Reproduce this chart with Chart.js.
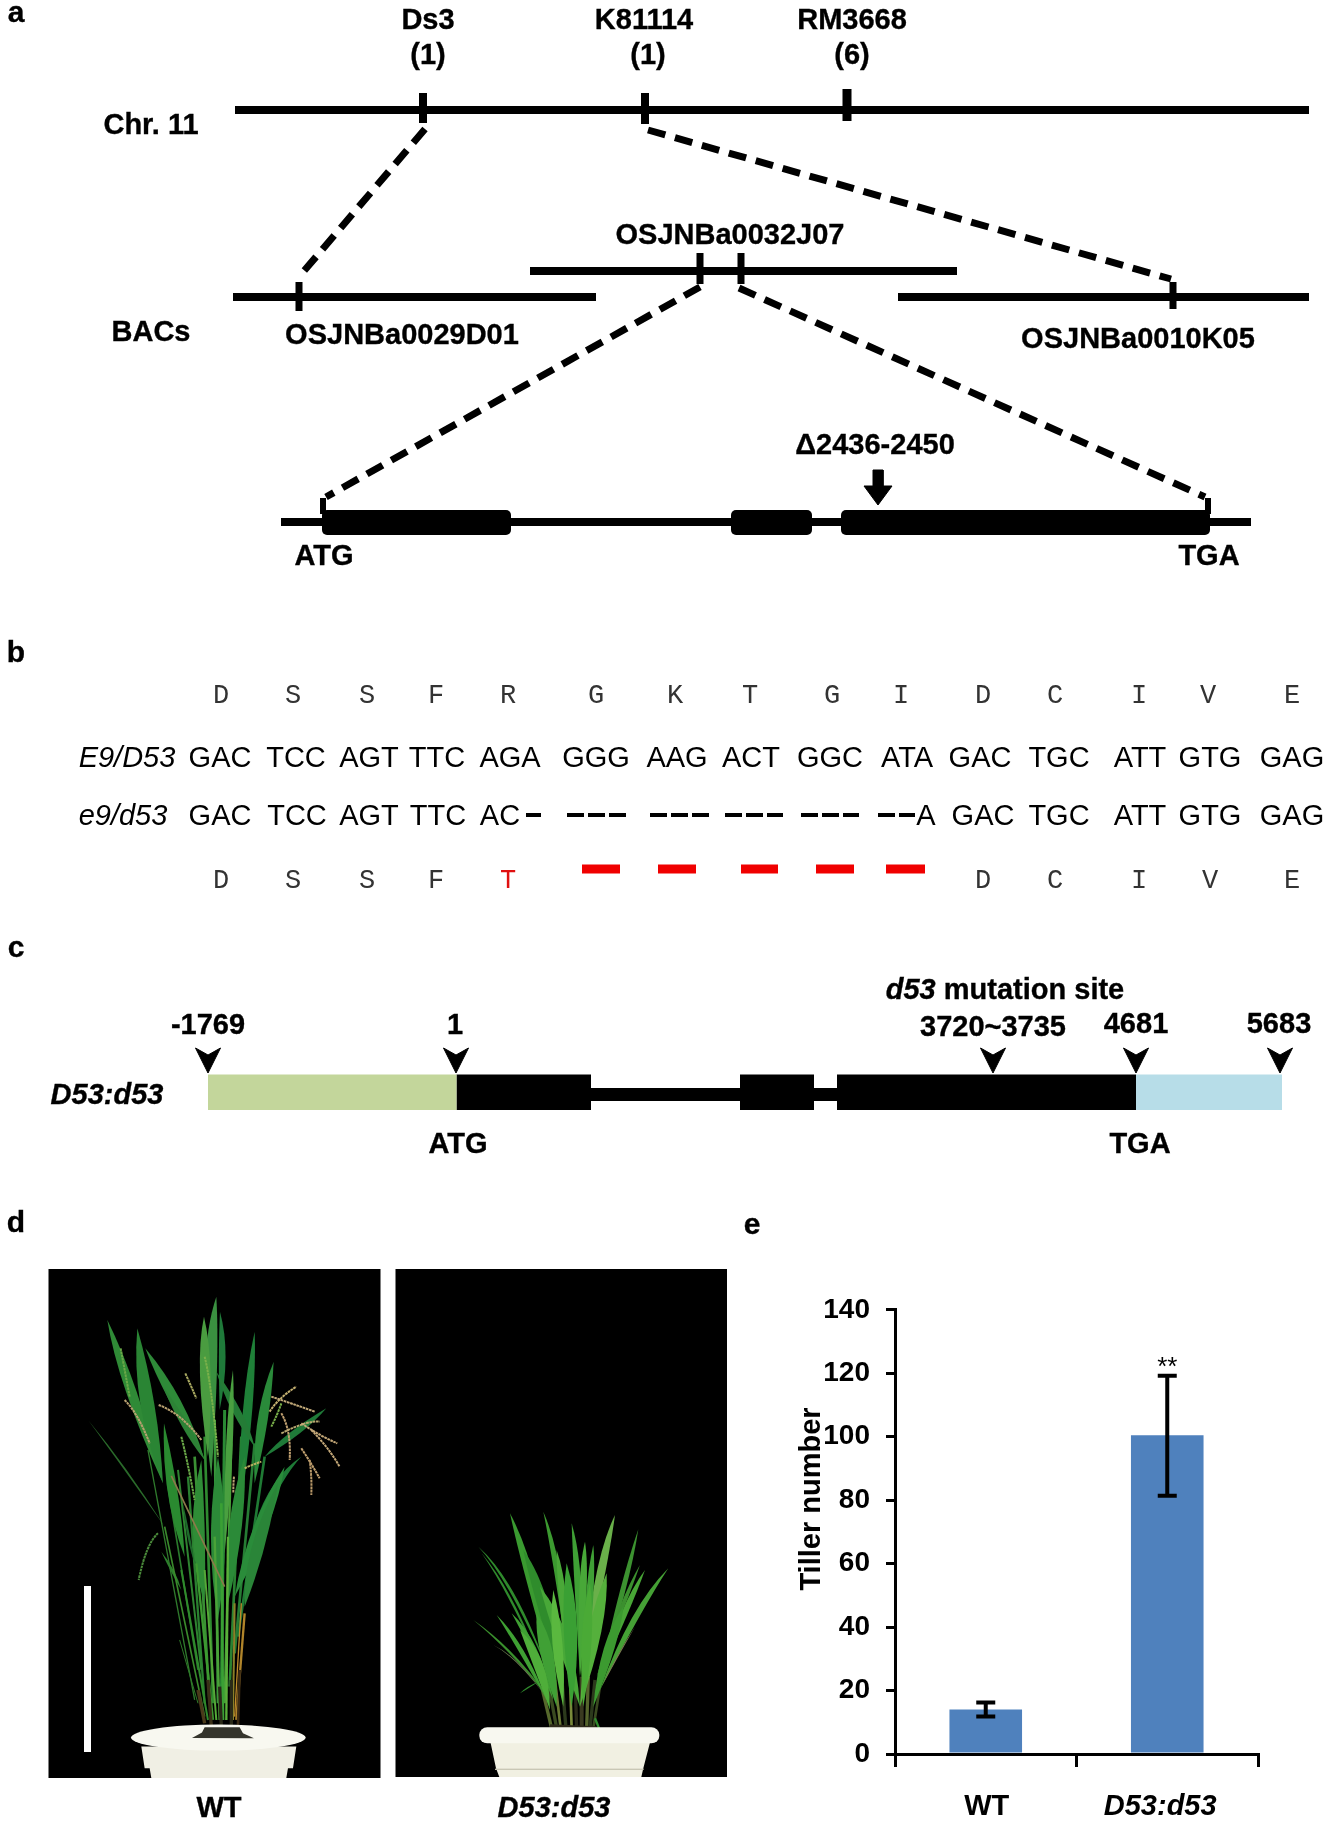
<!DOCTYPE html>
<html>
<head>
<meta charset="utf-8">
<title>D53 figure</title>
<script src="https://cdn.jsdelivr.net/npm/chart.js@4/dist/chart.umd.min.js"></script>
<style>
  html, body { margin: 0; padding: 0; background: #fff; }
  #page { position: relative; width: 1328px; height: 1824px; overflow: hidden; }
  #page canvas, #page svg { position: absolute; }
  .t { position: absolute; line-height: 0; white-space: nowrap; transform: translateX(-50%); color: #000;
       font-family: "Liberation Sans", Arial, sans-serif; }
  .b { font-weight: bold; -webkit-text-stroke: 0.35px #000; }
</style>
</head>
<body>
<div id="page">
  <svg id="plants" style="left:0;top:0" width="1328" height="1824" viewBox="0 0 1328 1824"></svg>
  <canvas id="schema" width="1328" height="1824" style="left:0;top:0"></canvas>
  <canvas id="tiller" width="548" height="547" style="left:780px;top:1277px"></canvas>
</div>

<script>
// =========================
// PANEL E DATA
// =========================
const tillerCategories = ["WT", "D53:d53"];
const tillerMeans = [14, 100.5];
const tillerErrLow = [11.8, 81.4];
const tillerErrHigh = [16.2, 119.2];
const tillerMarks = ["", "**"];
const tillerTitle = "Tiller number";

// =========================
// PANEL A DATA (page pixels)
// =========================
const solidLines = [
  // x0, y0, x1, y1, width
  [235, 110, 1309, 110, 8], [423, 93, 423, 123, 8], [645, 93, 645, 124, 8], [847, 89, 847, 121, 9],
  [233, 297, 596, 297, 8], [530, 271, 957, 271, 8], [898, 297, 1309, 297, 8],
  [299, 282, 299, 311, 7], [700, 253, 700, 284, 7], [741, 253, 741, 284, 7], [1173, 282, 1173, 309, 7],
  [281, 522, 1251, 522, 8], [323, 498, 323, 514, 6], [1208, 498, 1208, 514, 6]
];
const dashedLines = [
  [425, 129, 298, 278], [648, 130, 1171, 279], [700, 287, 326, 497], [739, 288, 1205, 497]
];
const geneExons = [[322, 511], [731, 812], [841, 1210]];
const deletionArrow = [[873, 470], [883, 470], [883, 486], [892, 486], [878, 505], [864, 486], [873, 486], [873, 470]];

// =========================
// PANEL B DATA
// =========================
const aminoRow1 = ["D","S","S","F","R","G","K","T","G","I","D","C","I","V","E"];
const aminoRow1X = [221,293,367,436,508,596,675,750,832,901,983,1055,1139,1208,1292];
const codonRow1 = ["GAC","TCC","AGT","TTC","AGA","GGG","AAG","ACT","GGC","ATA","GAC","TGC","ATT","GTG","GAG"];
const codonRow1X = [220,296,369,437,510,596,677,751,830,907,980,1059,1140,1210,1292];
const codonRow2 = ["GAC","TCC","AGT","TTC","AC","A","GAC","TGC","ATT","GTG","GAG"];
const codonRow2X = [220,297,369,438,500,926,983,1059,1140,1210,1292];
const aminoRow3 = ["D","S","S","F","T","D","C","I","V","E"];
const aminoRow3X = [221,293,367,436,508,983,1055,1139,1210,1292];
const blackGaps = [[526,541],[567,628],[650,709],[725,783],[801,859],[878,915]];
const redGaps = [[582,620],[658,696],[741,778],[816,854],[886,925]];

// =========================
// PANEL C DATA
// =========================
const constructBlocks = [
  // x0, x1, y0, y1, colour
  [208, 456.5, 1074.5, 1110, "#C3D69B"], [456.5, 591, 1074.5, 1110, "#000"], [591, 740, 1088, 1101, "#000"],
  [740, 814, 1074.5, 1110, "#000"], [814, 837, 1088, 1101, "#000"], [837, 1136, 1074.5, 1110, "#000"],
  [1136, 1282, 1074.5, 1110, "#B7DDE8"]
];
const constructArrowX = [208, 456, 993, 1136, 1280];

// =========================
// TEXT
// =========================
const boldLabels = [
  ["Ds3",428,29],["(1)",428,64],["K81114",644,29],["(1)",648,64],["RM3668",852,29],["(6)",852,64],
  ["Chr. 11",151,134],["OSJNBa0032J07",730,244],["BACs",151,341],["OSJNBa0029D01",402,344],
  ["OSJNBa0010K05",1138,348],["Δ2436-2450",875,454],["ATG",324,565],["TGA",1209,565],
  ["-1769",208,1034],["1",455,1034],["3720~3735",993,1036],["4681",1136,1033],["5683",1279,1033],
  ["ATG",458,1153],["TGA",1140,1153],["WT",219,1817]
];
const panelLetters = [["a",16,22],["b",16,662],["c",16,957],["d",16,1232],["e",752,1234]];

const page = document.getElementById("page");

function addText(text, x, baseline, size, css, cls) {
  const el = document.createElement("div");
  el.className = "t" + (cls ? " " + cls : "");
  el.textContent = text;
  el.style.left = x + "px";
  el.style.top = (baseline - 0.3465 * size) + "px";
  el.style.fontSize = size + "px";
  if (css) el.style.cssText += css;
  page.appendChild(el);
  return el;
}

boldLabels.forEach(l => addText(l[0], l[1], l[2], 29, "", "b"));
panelLetters.forEach(l => addText(l[0], l[1], l[2], 30, "", "b"));

const mono = 'font-family:"Liberation Mono",monospace;color:#333';
aminoRow1.forEach((a, i) => addText(a, aminoRow1X[i], 705, 27, mono));
aminoRow3.forEach((a, i) => addText(a, aminoRow3X[i], 890, 27, mono + (a === "T" ? ";color:#e01010" : "")));
codonRow1.forEach((c, i) => addText(c, codonRow1X[i], 767, 29));
codonRow2.forEach((c, i) => addText(c, codonRow2X[i], 825, 29));
addText("E9/D53", 127, 767, 29, "font-style:italic");
addText("e9/d53", 123, 825, 29, "font-style:italic");
addText("D53:d53", 107, 1104, 29, "font-style:italic", "b");
addText("D53:d53", 554, 1817, 29, "font-style:italic", "b");

// d53 mutation site: italic gene name plus plain bold
const mut = addText("", 1005, 999, 29, "", "b");
mut.innerHTML = "<i>d53</i> mutation site";

// =========================
// PANELS A-C AS A PIXEL-SCALE CHART
// =========================
const schemaSets = [];

function segment(x0, y0, x1, y1, width, color, dash) {
  schemaSets.push({
    type: "line", data: [{ x: x0, y: y0 }, { x: x1, y: y1 }],
    borderColor: color, borderWidth: width, borderDash: dash || [],
    pointRadius: 0, fill: false, tension: 0
  });
}

function polygon(points, color) {
  schemaSets.push({
    type: "line", data: points.map(p => ({ x: p[0], y: p[1] })),
    borderColor: color, backgroundColor: color, borderWidth: 1,
    pointRadius: 0, fill: "shape", tension: 0
  });
}

// rounded block: wide core line plus round points for the corners
function roundedBlock(x0, x1, y0, y1, r) {
  segment(x0, (y0 + y1) / 2, x1, (y0 + y1) / 2, y1 - y0 - 2 * r, "#000");
  segment(x0 + r, y0 + r, x1 - r, y0 + r, 2 * r, "#000");
  segment(x0 + r, y1 - r, x1 - r, y1 - r, 2 * r, "#000");
  schemaSets.push({
    type: "scatter",
    data: [{ x: x0 + r, y: y0 + r }, { x: x1 - r, y: y0 + r }, { x: x0 + r, y: y1 - r }, { x: x1 - r, y: y1 - r }],
    backgroundColor: "#000", borderWidth: 0, pointRadius: r, showLine: false
  });
}

solidLines.forEach(l => segment(l[0], l[1], l[2], l[3], l[4], "#000"));
dashedLines.forEach(l => segment(l[0], l[1], l[2], l[3], 7, "#000", [18, 10]));
geneExons.forEach(e => roundedBlock(e[0], e[1], 510, 535, 5));
polygon(deletionArrow, "#000");

blackGaps.forEach(g => segment(g[0], 815, g[1], 815, 4, "#000", [17, 4]));
redGaps.forEach(g => segment(g[0], 869, g[1], 869, 9, "#f00000"));

constructBlocks.forEach(b => segment(b[0], (b[2] + b[3]) / 2, b[1], (b[2] + b[3]) / 2, b[3] - b[2], b[4]));
constructArrowX.forEach(x => polygon([[x - 12.5, 1048], [x, 1055], [x + 12.5, 1048], [x, 1073], [x - 12.5, 1048]], "#000"));

// photo scale bar is drawn over the photo
segment(87.5, 1586, 87.5, 1752, 7, "#fff");

new Chart(document.getElementById("schema"), {
  data: { datasets: schemaSets },
  options: {
    responsive: false,
    animation: false,
    layout: { padding: 0, autoPadding: false },
    plugins: { legend: { display: false }, tooltip: { enabled: false } },
    scales: {
      x: { type: "linear", min: 0, max: 1328, display: false },
      y: { type: "linear", min: 0, max: 1824, reverse: true, display: false }
    }
  }
});

// =========================
// PANEL E BAR CHART
// =========================
const errorBars = {
  id: "errorBars",
  afterDatasetsDraw(chart) {
    const { ctx, scales } = chart;
    const meta = chart.getDatasetMeta(0);
    ctx.save();
    ctx.strokeStyle = "#000";
    ctx.fillStyle = "#000";
    ctx.lineWidth = 4;
    meta.data.forEach((bar, i) => {
      const top = scales.y.getPixelForValue(tillerErrHigh[i]);
      const bottom = scales.y.getPixelForValue(tillerErrLow[i]);
      ctx.beginPath();
      ctx.moveTo(bar.x, top); ctx.lineTo(bar.x, bottom);
      ctx.moveTo(bar.x - 9.5, top); ctx.lineTo(bar.x + 9.5, top);
      ctx.moveTo(bar.x - 9.5, bottom); ctx.lineTo(bar.x + 9.5, bottom);
      ctx.stroke();
      if (tillerMarks[i]) {
        ctx.font = '26px "Liberation Sans"';
        ctx.textAlign = "center";
        ctx.fillText(tillerMarks[i], bar.x, top - 1);
      }
    });
    // axis title sits above the axis middle in the figure
    ctx.translate(31.5, 222);
    ctx.rotate(-Math.PI / 2);
    ctx.font = 'bold 29px "Liberation Sans"';
    ctx.textAlign = "center";
    ctx.textBaseline = "middle";
    ctx.fillText(tillerTitle, 0, 0);
    ctx.restore();
  }
};

new Chart(document.getElementById("tiller"), {
  type: "bar",
  plugins: [errorBars],
  data: {
    labels: tillerCategories,
    datasets: [{
      data: tillerMeans,
      backgroundColor: "#4F81BD",
      barPercentage: 0.4,
      categoryPercentage: 1
    }]
  },
  options: {
    responsive: false,
    animation: false,
    layout: { padding: { top: 4.6, right: 70, left: 0, bottom: 0 } },
    plugins: { legend: { display: false }, tooltip: { enabled: false } },
    scales: {
      x: {
        afterFit(scale) { scale.height = 70; },
        grid: { offset: true, drawOnChartArea: false, color: "#000", lineWidth: 3, tickLength: 13 },
        border: { color: "#000", width: 3 },
        ticks: {
          color: "#000", padding: 23,
          maxRotation: 0,
          labelOffset: 1,
          // trailing spaces pull the long label left of its bar, as in the figure
          callback(value, index) { return tillerCategories[index] + (index === 1 ? "  " : ""); },
          font: ctx => ({ family: '"Liberation Sans"', size: 29, weight: "bold", style: ctx.index === 1 ? "italic" : "normal" })
        }
      },
      y: {
        min: 0, max: 140,
        afterFit(scale) { scale.width = 115; },
        grid: { drawOnChartArea: false, color: "#000", lineWidth: 3, tickLength: 9 },
        border: { color: "#000", width: 3 },
        ticks: { stepSize: 20, color: "#000", padding: 16, font: { family: '"Liberation Sans"', size: 28, weight: "bold" } }
      }
    }
  }
});

// =========================
// PANEL D PHOTOS, REDRAWN AS VECTOR PLANTS (3x crop units)
// =========================
const wtGreenStems = [
  [420,620,470,1300,"#2a8030",7],[440,560,485,1300,"#3a9034",8],[470,500,495,1300,"#2f8a30",8],[500,450,510,1300,"#38963a",8],
  [530,420,520,1300,"#2a8a34",9],[550,520,530,1300,"#48a038",7],[580,500,545,1250,"#2a8232",8],[620,520,560,1150,"#267c34",8],
  [650,560,570,1100,"#1f7a34",8],[390,600,460,1200,"#2e8430",6],[360,650,450,1200,"#2a7a2c",5]
];
const wtBlades = [
  // tip x, tip y, bend x, bend y, base x, base y, width, colour
  [122,452,230,590,350,770,7,"#2a6a2a"],[178,150,240,340,345,640,32,"#2f8a36"],[268,175,290,400,345,640,42,"#2a8534"],
  [292,235,380,380,470,570,34,"#2e8a38"],[345,350,420,480,470,570,22,"#2d8236"],[516,125,530,250,515,420,20,"#1f7a3a"],
  [505,80,480,260,490,620,36,"#3a9040"],[468,140,470,280,480,560,32,"#4a9c40"],[620,185,600,400,570,760,28,"#1f8038"],
  [677,275,640,440,620,640,30,"#2a8a3a"],[505,305,570,430,620,530,26,"#247c36"],[835,415,740,490,650,560,32,"#1f7a38"],
  [348,460,370,680,410,860,30,"#2a8a30"],[340,845,375,900,400,960,10,"#2c802c"],[760,560,660,640,590,880,24,"#1e7a36"],
  [710,590,640,760,560,980,42,"#2a8c3a"],[690,640,620,840,590,1010,38,"#2a8538"],[460,570,440,800,470,1000,36,"#2f8c36"],
  [510,560,510,800,510,1050,42,"#2c8a38"],[590,560,560,760,540,1000,38,"#2b8a38"],[555,300,545,500,530,850,20,"#4aa040"],
  [405,700,420,800,440,880,8,"#1e6a2c"]
];
const wtStems = [
  [300,540,440,1290,"#2f7a2c",4],[350,770,470,1340,"#3a8a2c",5],[400,900,480,1350,"#2f8a2c",6],[445,880,495,1350,"#3c9a30",7],
  [470,900,505,1350,"#55a838",6],[500,800,515,1350,"#4aa238",7],[520,700,525,1350,"#3aa034",8],[540,800,535,1350,"#5ab03a",7],
  [560,1000,555,1350,"#8a8028",6],[590,1030,565,1350,"#b0842a",7],[580,1000,560,1340,"#c08a2a",4],[395,1110,450,1300,"#2e7a28",3],
  [470,1360,450,1260,"#4a3a1a",10],[490,1370,480,1230,"#3a3018",10],[520,1370,515,1250,"#2a2a18",10],[550,1370,550,1230,"#2a2a18",10],
  [570,1370,575,1200,"#3a2a14",8],[370,618,530,950,"#8c7a4a",5]
];
const wtPanicles = [
  [230,390,270,430,305,520,"#b8a070"],[332,405,400,430,460,510,"#b8a070"],[412,310,430,350,445,385,"#a8a860"],
  [665,425,690,385,745,350,"#c4b070"],[670,380,730,400,800,425,"#c0a878"],[700,430,730,480,725,570,"#c0a070"],
  [700,490,780,450,815,455,"#b8a870"],[760,460,820,500,868,520,"#c4a878"],[790,480,840,530,875,590,"#c4a878"],
  [760,535,790,580,815,625,"#c0a070"],[785,570,792,620,790,675,"#b89868"],[590,595,610,585,640,575,"#b8b060"],
  [558,620,556,640,556,670,"#b8a070"],[218,235,230,300,245,380,"#6aa848"],[470,260,490,340,510,560,"#7ab04a"],
  [400,500,420,580,440,690,"#6aa848"],[330,790,295,820,272,930,"#4a8a3a"],[700,400,690,430,670,470,"#7ab04a"]
];
const d53Blades = [
  [210,70,270,230,340,560,26,"#3a9a30"],[310,65,360,220,390,560,18,"#3c9a30"],[395,100,420,250,420,560,20,"#3fa035"],
  [525,75,480,220,430,560,26,"#6ab04a"],[595,118,555,280,480,560,16,"#3c9230"],[685,235,590,350,480,600,20,"#45a035"],
  [115,170,220,270,330,560,10,"#2f8a2c"],[125,190,210,300,300,520,8,"#2f8a2c"],[100,390,220,480,330,630,10,"#3a8f2c"],
  [170,375,240,460,320,630,16,"#3fa033"],[215,370,280,450,340,630,20,"#3fa033"],[615,240,560,340,470,580,20,"#48a636"],
  [600,225,550,330,470,560,14,"#3b8f2e"],[435,155,430,260,420,560,22,"#48a838"],[460,165,450,300,430,600,22,"#3fa035"],
  [350,180,370,300,390,580,22,"#4aa838"],[250,180,310,310,370,600,34,"#2f8c2c"],[300,290,370,420,420,650,36,"#48a838"],
  [500,250,470,400,420,650,38,"#55b03c"],[290,370,320,470,350,650,38,"#40a035"],[380,220,395,400,395,650,40,"#3aa034"],
  [240,420,300,500,330,660,30,"#4fae3a"],[550,350,510,450,460,650,32,"#3c9a30"],[340,300,350,450,370,650,30,"#5ab83f"],
  [450,280,440,430,430,650,30,"#4aaa36"],[160,465,230,500,310,610,4,"#6a7a50"],[585,410,530,500,485,590,4,"#7a7a50"],
  [240,610,265,590,295,575,8,"#2f8a2c"]
];
const d53Stems = [
  [305,590,335,715,"#56682c",10],[325,580,350,715,"#3a4a20",10],[345,570,362,715,"#6a7a34",8],[365,560,378,715,"#2c3a1c",10],
  [390,560,395,715,"#7a8a3a",8],[405,560,410,715,"#2a2a18",10],[425,560,425,715,"#3a3a20",12],[445,560,440,715,"#55652c",10],
  [465,570,450,715,"#2c3a1c",10],[480,590,460,715,"#3a4a20",8],[330,710,470,716,"#2e2a1a",14],[465,685,480,722,"#2f8a2c",7]
];

const svg = document.getElementById("plants");
function add(parent, tag, attrs) {
  const el = document.createElementNS("http://www.w3.org/2000/svg", tag);
  Object.keys(attrs).forEach(k => el.setAttribute(k, attrs[k]));
  parent.appendChild(el);
  return el;
}

// leaf outline, pointed at both ends
function drawBlade(g, b) {
  const w = b[6];
  add(g, "path", {
    d: `M${b[4]},${b[5]} Q${b[2] - w},${b[3]} ${b[0]},${b[1]} Q${b[2] + w},${b[3]} ${b[4]},${b[5]} Z`,
    fill: b[7]
  });
}

function drawStem(g, s) {
  add(g, "line", { x1: s[0], y1: s[1], x2: s[2], y2: s[3], stroke: s[4], "stroke-width": s[5] });
}

add(svg, "rect", { x: 48.5, y: 1269, width: 332, height: 509, fill: "#000" });
add(svg, "rect", { x: 395.5, y: 1269, width: 331.5, height: 508, fill: "#000" });

const wtGroup = add(svg, "g", { transform: "translate(48,1270) scale(0.3333)" });
wtGreenStems.forEach(s => drawStem(wtGroup, s));
wtBlades.forEach(b => drawBlade(wtGroup, b));
wtStems.forEach(s => drawStem(wtGroup, s));
wtPanicles.forEach(p => add(wtGroup, "path", {
  d: `M${p[0]},${p[1]} Q${p[2]},${p[3]} ${p[4]},${p[5]}`,
  fill: "none", stroke: p[6], "stroke-width": 6, "stroke-dasharray": "8 2"
}));
// white pot with soil
add(wtGroup, "path", { d: "M280,1430 L745,1430 L735,1495 L720,1495 L715,1524 L310,1524 L305,1495 L290,1495 Z", fill: "#f0efe4" });
add(wtGroup, "ellipse", { cx: 511, cy: 1403, rx: 262, ry: 39, fill: "#f8f8f0" });
add(wtGroup, "path", { d: "M432,1404 L462,1388 L470,1372 L575,1372 L585,1390 L618,1405 Z", fill: "#35352c" });

const d53Group = add(svg, "g", { transform: "translate(440,1490) scale(0.3333)" });
d53Stems.forEach(s => drawStem(d53Group, s));
d53Blades.forEach(b => drawBlade(d53Group, b));
add(d53Group, "path", { d: "M150,750 L632,750 L610,835 L604,861 L178,861 L168,835 Z", fill: "#f1f0e2" });
add(d53Group, "rect", { x: 118, y: 712, width: 540, height: 48, rx: 24, ry: 22, fill: "#f8f8f0" });
add(d53Group, "rect", { x: 165, y: 836, width: 446, height: 4, fill: "#c8c6b4" });
</script>
</body>
</html>
